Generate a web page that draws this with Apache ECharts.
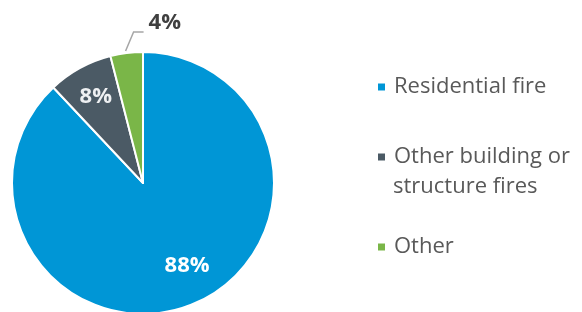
<!DOCTYPE html>
<html>
<head>
<meta charset="utf-8">
<script src="https://cdn.jsdelivr.net/npm/echarts@6/dist/echarts.min.js"></script>
<style>
    html, body { margin: 0; padding: 0; background: #fff; }
    #chart { width: 582px; height: 312px; }
</style>
</head>
<body>
<div id="chart"></div>
<script>
const categories = ['Residential fire', 'Other building or structure fires', 'Other'];
const legendLines = [['Residential fire'], ['Other building or', 'structure fires'], ['Other']];
const shares = [88, 8, 4];
const sliceColors = ['#0096d6', '#4b5a65', '#7ab648'];
const labelColors = ['#ffffff', '#eef0f2', '#404040'];

const chart = echarts.init(document.getElementById('chart'));

const font = '"Open Sans", sans-serif';
const center = [143, 183];
const legendRows = [87, 157, 247];
const lineH = 30;

function makeLegend(i) {
    return {
        orient: 'vertical',
        left: 376,
        top: legendRows[i] - lineH / 2,
        padding: 0,
        selectedMode: false,
        icon: 'rect',
        itemWidth: 9,
        itemHeight: 9,
        data: [categories[i]],
        formatter: function () { return legendLines[i][0]; },
        textStyle: {
            color: '#595959',
            fontFamily: font,
            fontSize: 22,
            lineHeight: lineH,
            padding: [0, 0, 0, 3]
        }
    };
}

const option = {
    animation: false,
    legend: [makeLegend(0), makeLegend(1), makeLegend(2)],
    graphic: [{
        // second line of the wrapped legend entry
        type: 'text',
        left: 393,
        top: legendRows[1] + lineH / 2,
        style: {
            text: legendLines[1][1],
            fill: '#595959',
            font: '22px ' + font,
            lineHeight: lineH
        }
    }],
    series: [
        {
            type: 'pie',
            center: center,
            radius: [0, 131],
            startAngle: 90,
            clockwise: true,
            itemStyle: { borderColor: '#fff', borderWidth: 2 },
            emphasis: { disabled: true },
            labelLine: {
                lineStyle: { color: '#a6a6a6', width: 1.5 }
            },
            labelLayout: function (params) {
                if (params.dataIndex !== 2 || !params.labelLinePoints) return {};
                const p = params.labelLinePoints[0];
                const x0 = p[0] - 1, y0 = p[1] - 2;
                return {
                    x: x0 + 23,
                    y: y0 - 28,
                    align: 'left',
                    verticalAlign: 'middle',
                    labelLinePoints: [[x0, y0], [x0 + 8, y0 - 19], [x0 + 18, y0 - 19]]
                };
            },
            data: categories.map(function (name, i) {
                return {
                    name: name,
                    value: shares[i],
                    itemStyle: { color: sliceColors[i] },
                    label: i === 2 ? {
                        show: true,
                        position: 'outside',
                        formatter: '{c}%',
                        color: labelColors[i],
                        fontFamily: font,
                        fontWeight: 'bold',
                        fontSize: 22
                    } : { show: false },
                    labelLine: { show: i === 2, length: 14, length2: 10 }
                };
            })
        },
        {
            // transparent ring only used to place the inside labels further out
            type: 'pie',
            center: center,
            radius: [84, 106],
            startAngle: 90,
            clockwise: true,
            silent: true,
            itemStyle: { color: 'rgba(0,0,0,0)' },
            labelLayout: function (params) {
                if (params.dataIndex === 0) return { dx: 8, dy: -8 };
                return {};
            },
            data: categories.map(function (name, i) {
                return {
                    name: name + ' label',
                    value: shares[i],
                    label: {
                        show: i < 2,
                        position: 'inside',
                        formatter: '{c}%',
                        color: labelColors[i],
                        fontFamily: font,
                        fontWeight: 'bold',
                        fontSize: 22
                    }
                };
            })
        }
    ]
};

chart.setOption(option);
</script>
</body>
</html>
